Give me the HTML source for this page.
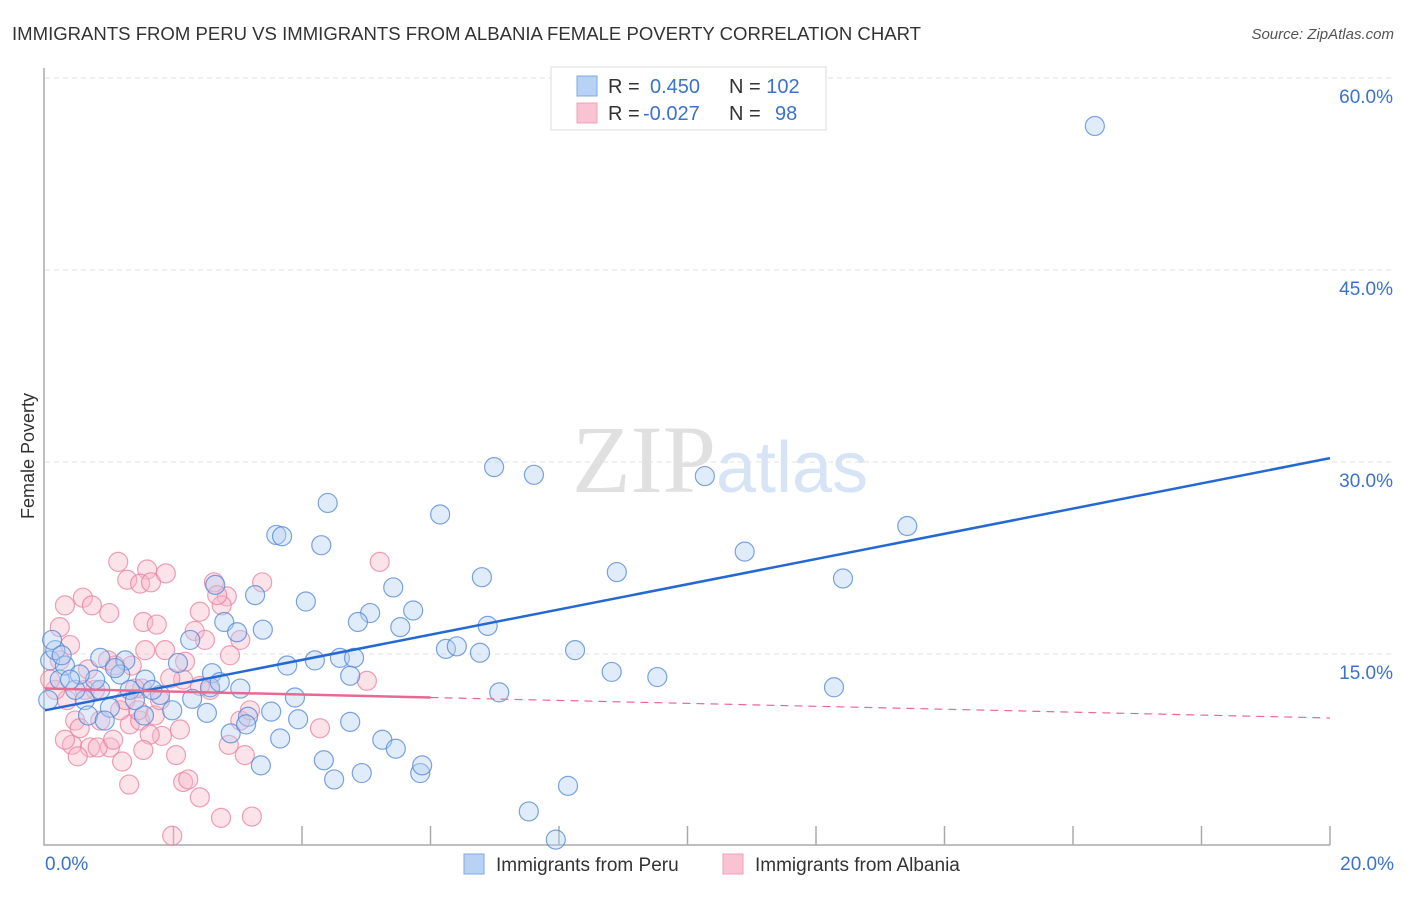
<!DOCTYPE html>
<html><head><meta charset="utf-8"><style>
body{margin:0;background:#fff;font-family:"Liberation Sans",sans-serif}
</style></head><body>
<svg width="1406" height="892" viewBox="0 0 1406 892" xmlns="http://www.w3.org/2000/svg">
<text x="12" y="40" font-size="18" fill="#333" textLength="909" lengthAdjust="spacingAndGlyphs">IMMIGRANTS FROM PERU VS IMMIGRANTS FROM ALBANIA FEMALE POVERTY CORRELATION CHART</text>
<text x="1394" y="39" font-size="15" fill="#555" font-style="italic" text-anchor="end">Source: ZipAtlas.com</text>
<text x="34" y="456" font-size="18" fill="#333" text-anchor="middle" transform="rotate(-90 34 456)">Female Poverty</text>
<text x="716" y="492" font-size="96" fill="#e0e0e0" text-anchor="end" font-family="Liberation Serif,serif">ZIP</text>
<text x="716" y="492" font-size="72" fill="#d6e4f5">atlas</text>
<g id="grid"></g><g id="axes"></g><g id="pts"></g><g id="lines"></g>
<g>
<rect x="551" y="67" width="275" height="63" fill="#fff" stroke="#ddd"/>
<rect x="577" y="76" width="20" height="20" fill="#b7d2f5" stroke="#7ea8e0"/>
<rect x="577" y="103" width="20" height="20" fill="#f9c3d3" stroke="#eda0b8"/>
<text x="608" y="93" font-size="20" fill="#333">R = <tspan fill="#3a72cc" x="650">0.450</tspan><tspan x="729" fill="#333">N = </tspan><tspan fill="#3a72cc">102</tspan></text>
<text x="608" y="120" font-size="20" fill="#333">R = <tspan fill="#3a72cc" x="643">-0.027</tspan><tspan x="729" fill="#333">N = </tspan><tspan fill="#3a72cc" x="775">98</tspan></text>
</g>
<g>
<rect x="464" y="854" width="20" height="20" fill="#b7d2f5" stroke="#7ea8e0"/>
<text x="496" y="871" font-size="19" fill="#333">Immigrants from Peru</text>
<rect x="723" y="854" width="20" height="20" fill="#f9c3d3" stroke="#eda0b8"/>
<text x="755" y="871" font-size="19" fill="#333">Immigrants from Albania</text>
</g>
</svg>
<script>
const yTicks=[15,30,45,60];
const yTickLabels=["15.0%","30.0%","45.0%","60.0%"];
const xTickVals=[2,4,6,8,10,12,14,16,18,20];
const peruX=[16.34,6.99,7.61,10.27,13.42,4.40,6.15,3.60,3.69,4.30,10.89,8.90,6.80,12.42,5.42,3.27,2.65,4.06,5.73,5.06,4.87,5.53,2.79,6.89,3.39,2.99,6.24,6.41,6.77,8.25,2.26,4.59,4.81,4.20,3.77,8.82,9.53,7.07,12.28,2.60,2.07,1.25,0.86,2.57,3.04,2.72,3.89,4.75,2.29,1.98,2.52,3.52,3.16,3.94,4.75,2.89,3.13,3.66,5.25,5.46,4.34,4.93,4.50,3.36,5.84,5.87,7.53,8.14,7.95,1.54,1.01,0.62,0.23,0.47,0.08,0.16,0.31,0.86,1.32,1.56,1.79,1.17,0.78,0.54,0.39,0.11,0.05,0.26,0.67,0.93,1.67,1.40,1.09];
const peruY=[56.25,29.6,29.0,28.9,25.0,26.8,25.9,24.3,24.2,23.5,23.0,21.4,21.0,20.9,20.2,19.6,20.4,19.1,18.4,18.2,17.5,17.1,17.5,17.2,16.9,16.7,15.4,15.6,15.1,15.3,16.1,14.7,14.7,14.5,14.1,13.6,13.2,12.0,12.4,13.5,14.3,14.5,14.7,12.4,12.3,12.8,11.6,13.3,11.5,10.6,10.4,10.5,10.1,9.9,9.7,8.8,9.5,8.4,8.3,7.6,6.7,5.7,5.2,6.3,5.7,6.3,2.7,4.7,0.5,10.2,10.8,11.4,13.0,12.2,14.5,15.3,14.1,12.2,12.2,13.0,11.8,13.4,13.0,13.4,13.0,16.1,11.4,14.9,10.2,9.8,12.2,11.4,13.9];
const albX=[1.14,1.59,1.28,1.48,1.65,1.88,2.63,3.38,5.21,0.31,0.59,0.73,1.00,1.53,1.74,2.41,2.83,2.33,2.49,1.87,0.23,0.39,1.56,1.35,2.18,2.15,1.51,2.57,1.09,0.78,3.04,1.95,1.40,5.01,4.28,1.32,1.82,1.20,2.04,2.86,3.11,0.42,0.70,1.01,0.51,0.82,1.31,2.15,2.23,2.41,2.74,3.22,1.98,0.34,0.47,0.86,1.48,1.71,1.79,2.10,1.17,0.54,0.16,0.08,0.98,1.06,1.63,1.53,0.23,0.67,1.25,2.41,2.88,2.75,2.68,3.04,3.19,1.45,0.62,0.31];
const albY=[22.2,21.6,20.8,20.5,20.6,21.3,20.6,20.6,22.2,18.8,19.4,18.8,18.2,17.5,17.3,18.3,19.5,16.8,16.1,15.3,17.1,15.7,15.3,14.1,14.4,13.0,12.3,12.2,14.1,12.2,16.1,13.1,12.3,12.9,9.2,9.5,8.6,6.6,7.1,7.9,7.1,7.9,7.7,7.7,7.0,7.7,4.8,5.0,5.2,3.8,2.2,2.3,0.8,11.4,9.8,9.8,9.8,10.2,11.4,9.1,10.6,9.2,12.2,13.0,14.5,8.3,8.7,7.5,14.5,13.8,11.4,12.5,14.9,18.8,19.6,9.8,10.6,10.6,12.2,8.3];
const peruTrend=[[0,10.6],[20,30.3]];
const albTrendSolid=[[0,12.3],[6,11.6]];
const albTrendDash=[[6,11.6],[20,10.0]];
const NS="http://www.w3.org/2000/svg";
const xs=v=>45+v*64.25, ys=v=>846-v*12.8;
function mk(t,a,p){const e=document.createElementNS(NS,t);for(const k in a)e.setAttribute(k,a[k]);p.appendChild(e);return e;}
const grid=document.getElementById('grid'),axes=document.getElementById('axes'),pts=document.getElementById('pts'),lines=document.getElementById('lines');
yTicks.forEach((v,i)=>{
 const l=mk('line',{x1:45,x2:1394,y1:ys(v),y2:ys(v),stroke:'#e2e2e2','stroke-dasharray':'5,4'},grid);
 
 
 const t=mk('text',{x:1393,y:ys(v)+25,'font-size':19,fill:'#3a72cc','text-anchor':'end'},grid);t.textContent=yTickLabels[i];
 
 
});
const ax=mk('path',{d:`M44 68 V845 H1330`,stroke:'#aaa',fill:'none','stroke-width':1.5},axes);


xTickVals.forEach(v=>{const t=mk('line',{x1:xs(v),x2:xs(v),y1:826,y2:845,stroke:'#aaa','stroke-width':1.5},axes);
 
 });
const x0=mk('text',{x:45,y:870,'font-size':19,fill:'#3a72cc'},axes);x0.textContent='0.0%';


const x1=mk('text',{x:1394,y:870,'font-size':19,fill:'#3a72cc','text-anchor':'end'},axes);x1.textContent='20.0%';


function dots(X,Y,fill,stroke,name){X.forEach((x,i)=>{const c=mk('circle',{cx:xs(x),cy:ys(Y[i]),r:9.5,fill:fill,'fill-opacity':0.4,stroke:stroke,'stroke-opacity':0.75,'stroke-width':1.2},pts);
 
 });}
dots(albX,albY,'#f7b6c9','#e8809f','albania-point');
dots(peruX,peruY,'#b3cff3','#4f86d6','peru-point');
function ln(p,st,w,dash,name){const l=mk('line',{x1:xs(p[0][0]),y1:ys(p[0][1]),x2:xs(p[1][0]),y2:ys(p[1][1]),stroke:st,'stroke-width':w},lines);if(dash)l.setAttribute('stroke-dasharray',dash);
 
 }
ln(peruTrend,'#2368d3',2.5,null,'peru-trendline');
ln(albTrendSolid,'#e86a92',2.5,null,'albania-trendline');
ln(albTrendDash,'#e86a92',1.2,'8,6','albania-trendline-extension');
</script>
</body></html>
